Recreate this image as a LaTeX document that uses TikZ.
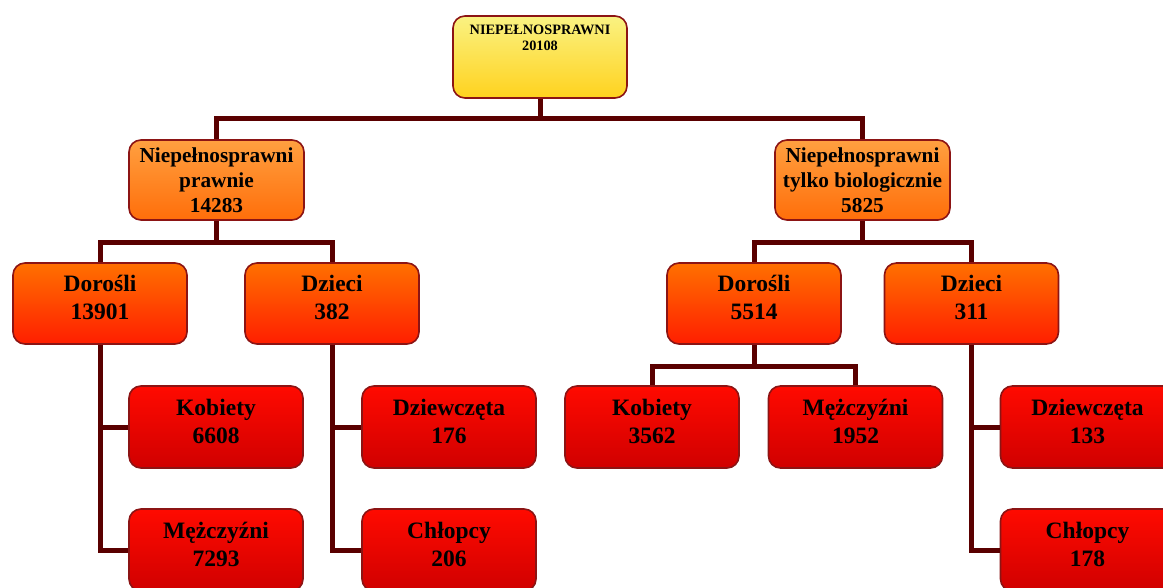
\documentclass[tikz,border=0pt]{standalone}
\usepackage{fontspec}
\setmainfont{Liberation Serif}
\definecolor{conn}{RGB}{90,0,0}
\definecolor{bord}{RGB}{140,20,20}
\definecolor{yA}{RGB}{250,242,130}
\definecolor{yB}{RGB}{255,210,30}
\definecolor{oA}{RGB}{255,160,64}
\definecolor{oB}{RGB}{255,110,10}
\definecolor{rA}{RGB}{255,112,0}
\definecolor{rB}{RGB}{255,30,0}
\definecolor{dA}{RGB}{255,10,0}
\definecolor{dB}{RGB}{208,0,0}
\tikzset{
  box/.style={draw=bord, line width=1.6pt, rounded corners=12pt, inner sep=0pt},
  topbox/.style={box, top color=yA, bottom color=yB, minimum width=174pt, minimum height=82pt},
  lvA/.style={box, top color=oA, bottom color=oB, minimum width=175pt, minimum height=80pt, align=center, font=\bfseries\fontsize{21.3}{25}\selectfont},
  lvB/.style={box, top color=rA, bottom color=rB, minimum width=174pt, minimum height=81pt},
  lvC/.style={box, top color=dA, bottom color=dB, minimum width=174pt, minimum height=82pt},
  txt/.style={align=center, font=\bfseries\fontsize{23.5}{28}\selectfont, inner sep=0pt},
  connector/.style={draw=conn, line width=5pt},
}
\begin{document}
\begin{tikzpicture}[x=1pt,y=-1pt]
\useasboundingbox (0,0) rectangle (1163,587);
\clip (0,0) rectangle (1163,587);
\coordinate (j0) at (540,118);
\coordinate (j1) at (216.5,242);
\coordinate (j2) at (862.5,242);
\coordinate (j3) at (754,366);
% boxes
\node[topbox, label={[anchor=north, yshift=-10pt, align=center, inner sep=0pt, font=\bfseries\fontsize{14.3}{16}\selectfont]north:NIEPEŁNOSPRAWNI\\20108}] (top) at (540,57) {};
\node[lvA] (np) at (216.5,180) {Niepełnosprawni\\prawnie\\14283};
\node[lvA] (nb) at (862.5,180) {Niepełnosprawni\\tylko biologicznie\\5825};
\node[lvB, label={[txt, yshift=6pt]center:Dorośli\\13901}] (d1) at (100,303.5) {};
\node[lvB, label={[txt, yshift=6pt]center:Dzieci\\382}] (c1) at (332,303.5) {};
\node[lvB, label={[txt, yshift=6pt]center:Dorośli\\5514}] (d2) at (754,303.5) {};
\node[lvB, label={[txt, yshift=6pt]center:Dzieci\\311}] (c2) at (971.5,303.5) {};
\node[lvC, label={[txt, yshift=6pt]center:Kobiety\\6608}] (k1) at (216,427) {};
\node[lvC, label={[txt, yshift=6pt]center:Mężczyźni\\7293}] (m1) at (216,550) {};
\node[lvC, label={[txt, yshift=6pt]center:Dziewczęta\\176}] (g1) at (449,427) {};
\node[lvC, label={[txt, yshift=6pt]center:Chłopcy\\206}] (b1) at (449,550) {};
\node[lvC, label={[txt, yshift=6pt]center:Kobiety\\3562}] (k2) at (652,427) {};
\node[lvC, label={[txt, yshift=6pt]center:Mężczyźni\\1952}] (m2) at (855.5,427) {};
\node[lvC, label={[txt, yshift=6pt]center:Dziewczęta\\133}] (g2) at (1087.5,427) {};
\node[lvC, label={[txt, yshift=6pt]center:Chłopcy\\178}] (b2) at (1087.5,550) {};
% connectors
\path[connector] (top.south) -- (j0) -| (np.north);
\path[connector] (j0) -| (nb.north);
\path[connector] (np.south) -- (j1) -| (d1.north);
\path[connector] (j1) -| (c1.north);
\path[connector] (nb.south) -- (j2) -| (d2.north);
\path[connector] (j2) -| (c2.north);
\path[connector] (d1.south) |- (k1.west);
\path[connector] (d1.south) |- (m1.west);
\path[connector] (c1.south) |- (g1.west);
\path[connector] (c1.south) |- (b1.west);
\path[connector] (d2.south) -- (j3) -| (k2.north);
\path[connector] (j3) -| (m2.north);
\path[connector] (c2.south) |- (g2.west);
\path[connector] (c2.south) |- (b2.west);
\end{tikzpicture}
\end{document}
